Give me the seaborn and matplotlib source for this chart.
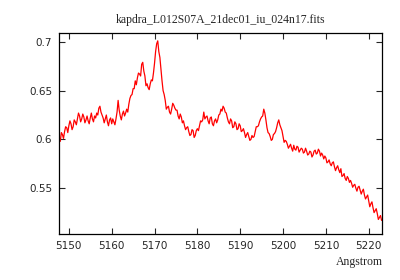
"""
Spectrum plot of kapdra_L012S07A_21dec01_iu_024n17.fits
"""

import numpy as np
import pandas as pd
import matplotlib
matplotlib.use("Agg")
import matplotlib.pyplot as plt
import seaborn as sns


# Wavelength grid (Angstrom), uniform sampling of the spectrum
wave_start = 5148.0
wave_step = 0.25

# Flux values, one per wavelength step
flux = [
    0.598, 0.607, 0.605, 0.601, 0.608, 0.613, 0.612, 0.607, 0.614, 0.619,
    0.616, 0.610, 0.613, 0.620, 0.618, 0.615, 0.621, 0.627, 0.624, 0.618,
    0.621, 0.626, 0.623, 0.617, 0.620, 0.624, 0.619, 0.616, 0.622, 0.627,
    0.621, 0.618, 0.624, 0.622, 0.627, 0.625, 0.632, 0.634, 0.628, 0.625,
    0.622, 0.617, 0.621, 0.625, 0.618, 0.614, 0.620, 0.622, 0.616, 0.621,
    0.618, 0.615, 0.621, 0.628, 0.640, 0.630, 0.624, 0.620, 0.626, 0.629,
    0.624, 0.627, 0.631, 0.628, 0.636, 0.642, 0.645, 0.646, 0.652, 0.652,
    0.660, 0.656, 0.663, 0.668, 0.667, 0.665, 0.677, 0.679, 0.670, 0.665,
    0.655, 0.657, 0.653, 0.651, 0.657, 0.661, 0.660, 0.668, 0.678, 0.690,
    0.698, 0.701, 0.690, 0.684, 0.672, 0.660, 0.650, 0.646, 0.640, 0.631,
    0.633, 0.634, 0.628, 0.626, 0.631, 0.637, 0.635, 0.632, 0.630, 0.630,
    0.624, 0.621, 0.626, 0.623, 0.617, 0.619, 0.614, 0.610, 0.612, 0.613,
    0.608, 0.604, 0.605, 0.610, 0.609, 0.602, 0.604, 0.609, 0.611, 0.609,
    0.614, 0.619, 0.618, 0.620, 0.628, 0.621, 0.623, 0.624, 0.619, 0.616,
    0.622, 0.623, 0.616, 0.614, 0.619, 0.621, 0.617, 0.620, 0.625, 0.626,
    0.631, 0.629, 0.634, 0.632, 0.628, 0.627, 0.622, 0.618, 0.616, 0.621,
    0.619, 0.612, 0.613, 0.618, 0.616, 0.610, 0.611, 0.616, 0.614, 0.608,
    0.609, 0.611, 0.607, 0.602, 0.605, 0.607, 0.603, 0.599, 0.600, 0.604,
    0.602, 0.603, 0.608, 0.613, 0.613, 0.614, 0.618, 0.621, 0.623, 0.624,
    0.631, 0.627, 0.620, 0.612, 0.607, 0.606, 0.603, 0.599, 0.600, 0.605,
    0.606, 0.608, 0.612, 0.617, 0.620, 0.615, 0.612, 0.609, 0.603, 0.597,
    0.599, 0.598, 0.595, 0.591, 0.593, 0.595, 0.591, 0.588, 0.594, 0.590,
    0.589, 0.593, 0.592, 0.587, 0.589, 0.591, 0.590, 0.586, 0.587, 0.591,
    0.588, 0.584, 0.585, 0.588, 0.587, 0.582, 0.584, 0.588, 0.589, 0.585,
    0.586, 0.590, 0.588, 0.583, 0.586, 0.584, 0.580, 0.583, 0.581, 0.576,
    0.577, 0.579, 0.575, 0.573, 0.576, 0.577, 0.572, 0.568, 0.571, 0.573,
    0.569, 0.566, 0.570, 0.562, 0.563, 0.565, 0.560, 0.558, 0.562, 0.560,
    0.556, 0.558, 0.555, 0.551, 0.553, 0.554, 0.550, 0.547, 0.551, 0.552,
    0.548, 0.544, 0.547, 0.549, 0.543, 0.539, 0.541, 0.543, 0.537, 0.531,
    0.534, 0.536, 0.530, 0.525, 0.527, 0.529, 0.524, 0.518, 0.520, 0.522,
    0.517,
]

wave = wave_start + wave_step * np.arange(len(flux))
df = pd.DataFrame({"wave": wave, "flux": flux})

xticks = [5150, 5160, 5170, 5180, 5190, 5200, 5210, 5220]
yticks = [0.55, 0.6, 0.65, 0.7]

sns.set_style("ticks")
plt.rcParams["font.family"] = ["DejaVu Sans"]

fig = plt.figure(figsize=(4, 2.8), dpi=100)
ax = fig.add_axes([0.1475, 0.164, 0.8075, 0.718])

sns.lineplot(data=df, x="wave", y="flux", color="#ff0000", linewidth=0.9, ax=ax)

ax.set_xlim(5147.7, 5223.1)
ax.set_ylim(0.503, 0.709)
ax.set_xticks(xticks)
ax.set_xticklabels([str(t) for t in xticks])
ax.set_yticks(yticks)
ax.set_yticklabels(["0.55", "0.6", "0.65", "0.7"])
ax.tick_params(direction="in", length=4, width=0.8, top=True, right=True,
               labelsize=7.5, pad=5)
for s in ax.spines.values():
    s.set_linewidth(0.9)
    s.set_color("black")

ax.set_xlabel("")
ax.set_ylabel("")
ax.set_title("kapdra_L012S07A_21dec01_iu_024n17.fits", family="Liberation Serif",
             fontsize=8.5, pad=7)
fig.text(0.957, 0.063, "Angstrom", family="Liberation Serif", fontsize=8.5,
         ha="right", va="center")

fig.savefig("out.png", dpi=100)
